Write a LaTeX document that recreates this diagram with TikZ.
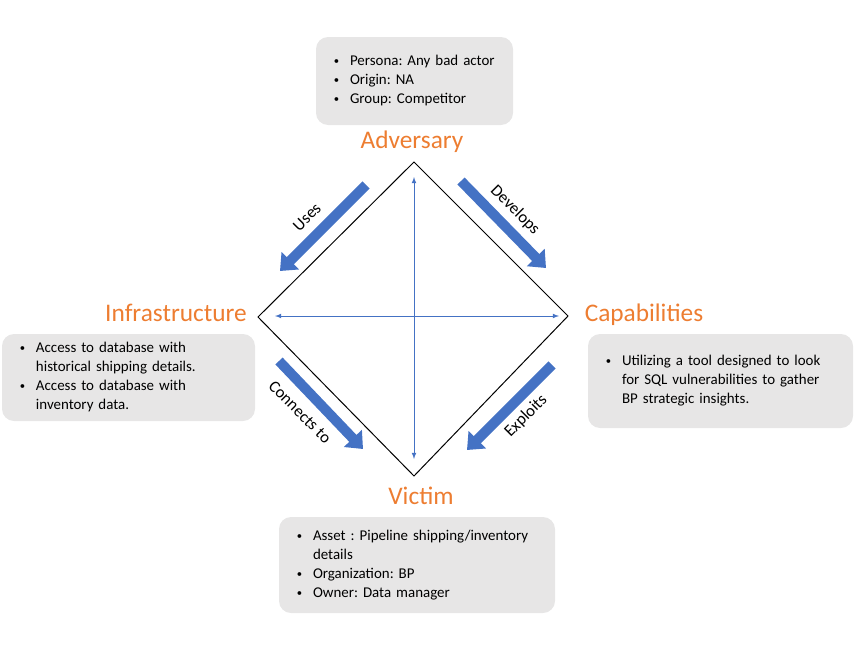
\documentclass[tikz,border=0pt]{standalone}
\usepackage{fontspec}
\setmainfont{Carlito}
\usepackage{xcolor}
\usepackage{tikz}
\usetikzlibrary{arrows.meta}
\usetikzlibrary{positioning}
\frenchspacing
\definecolor{dm-orange}{HTML}{ED7D31}
\definecolor{dm-gray}{HTML}{E7E6E6}
\definecolor{dm-blue}{HTML}{4472C4}
\tikzset{>=latex}
\tikzset{dm-line/.style={line width=0.75pt}}
\tikzset{dm-title/.style={text=dm-orange, inner sep=0, font=\fontsize{19}{23}\selectfont}}
\tikzset{dm-box/.style={fill=dm-gray, rounded corners=9pt, inner xsep=12.75pt, inner ysep=0, align=left, font=\fontsize{11.2}{14.25}\selectfont}}
\tikzset{dm-block/.style={draw=dm-blue, line width=7.5pt, -{Triangle[width=18pt, length=11pt]}}}
\tikzset{dm-axis/.style={draw=dm-blue, line width=0.6pt, <->}}
\tikzset{dm-label/.style={inner sep=0, font=\fontsize{12.5}{14}\selectfont}}
\newcommand{\dmitem}{\makebox[12.75pt][l]{\hspace*{0.6pt}\raisebox{0.9pt}{\fontsize{8}{8}\selectfont\textbullet}}}
\newcommand{\dmcont}{\hspace*{12.75pt}}

\begin{document}
\begin{tikzpicture}[x=0.75pt, y=-0.75pt]
            \useasboundingbox (0,0) rectangle (857,650);

            % diamond corners
            \coordinate (adv) at (414,162);
            \coordinate (cap) at (568,316);
            \coordinate (vic) at (414,476);
            \coordinate (inf) at (258,317);
            \draw[dm-line] (adv) -- (cap) -- (vic) -- (inf) -- cycle;

            % axes
            \coordinate (axis-top) at (414,177);
            \coordinate (axis-bottom) at (414,459);
            \coordinate (axis-left) at (275,316);
            \coordinate (axis-right) at (559,316);
            \draw[dm-axis] (axis-bottom) -- (axis-top);
            \draw[dm-axis] (axis-left) -- (axis-right);

            % titles
            \node[dm-title] (adv-title) at (412,142) {Adversary};
            \node[dm-title] (inf-title) at (176,313) {Infrastructure};
            \node[dm-title] (cap-title) at (644,315) {Capabilities};
            \node[dm-title] (vic-title) at (421,496) {Victim};

            % boxes
            \node[dm-box, text width=122.25pt, minimum height=66pt] (adv-box) at (414.5,81) {%
                \dmitem Persona: Any bad actor\\
                \dmitem Origin: NA\\
                \dmitem Group: Competitor};
            \node[dm-box, text width=164.25pt, minimum height=65.25pt] (inf-box) at (128.5,377.5) {%
                \dmitem Access to database with\\
                \dmcont historical shipping details.\\
                \dmitem Access to database with\\
                \dmcont inventory data.};
            \node[dm-box, text width=173.25pt, minimum height=70.5pt] (cap-box) at (720.5,381) {%
                \dmitem Utilizing a tool designed to look\\
                \dmcont for SQL vulnerabilities to gather\\
                \dmcont BP strategic insights.};
            \node[dm-box, text width=181.5pt, minimum height=72pt] (vic-box) at (417,565) {%
                \dmitem Asset : Pipeline shipping/inventory\\
                \dmcont details\\
                \dmitem Organization: BP\\
                \dmitem Owner: Data manager};

            % block arrows
            \coordinate (uses-a) at (366,185);
            \coordinate (uses-b) at (280,271);
            \coordinate (dev-a) at (461,181);
            \coordinate (dev-b) at (546,268);
            \coordinate (con-a) at (279,361);
            \coordinate (con-b) at (363,449);
            \coordinate (exp-a) at (552,365);
            \coordinate (exp-b) at (467,450);
            \draw[dm-block] (uses-a) -- (uses-b);
            \draw[dm-block] (dev-a) -- (dev-b);
            \draw[dm-block] (con-a) -- (con-b);
            \draw[dm-block] (exp-a) -- (exp-b);

            % labels
            \node[dm-label, rotate=45] (uses) at (307,217) {Uses};
            \node[dm-label, rotate=-45] (develops) at (515,210) {Develops};
            \node[dm-label, rotate=-45] (connects) at (300,412) {Connects to};
            \node[dm-label, rotate=45] (exploits) at (526,416) {Exploits};
        \end{tikzpicture}
\end{document}
